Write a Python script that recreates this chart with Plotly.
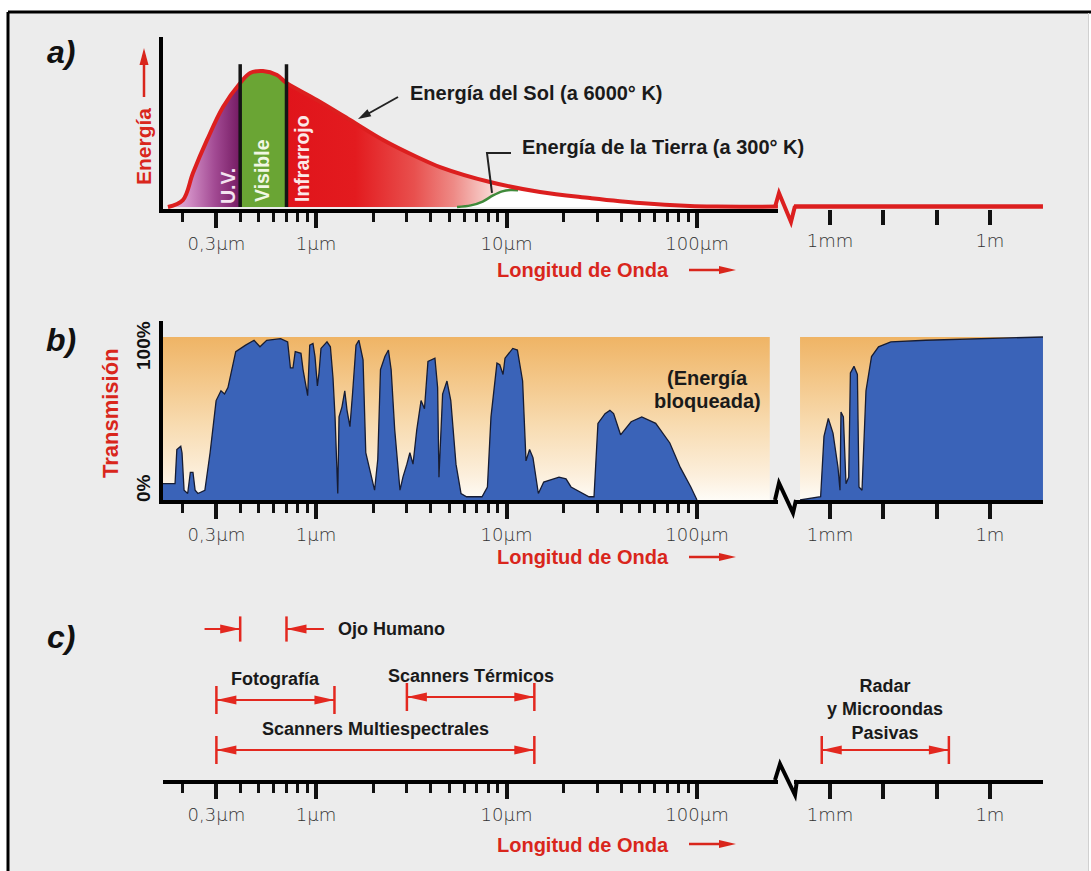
import numpy as np
import plotly.graph_objects as go

W, H = 1091, 871

# ---------------- DATA ----------------
# a) emitted energy (relative units, peak = 100) vs wavelength (µm)
sun_wl = [0.167, 0.200, 0.226, 0.268, 0.325, 0.400, 0.451, 0.527, 0.624, 0.700,
          1.01, 1.51, 2.25, 3.39, 4.48, 8.19, 15.0, 27.4, 50.2, 91.9, 127, 266]
sun_energy = [0, 5.1, 25, 49.3, 73.5, 91.2, 98.5, 100, 97, 91.2,
              78.7, 64, 49.3, 36.8, 29.4, 18.4, 11, 6.6, 2.9, 0.7, 0.3, 0.3]
sun_wl_r = [140, 9.9e6]          # tail of the solar curve beyond the axis break
sun_energy_r = [0.3, 0.3]
earth_wl = [5.5, 6.5, 7.5, 8.5, 9.5, 10.5, 11.5, 13, 16, 25, 40, 80, 127]
earth_energy = [0, 1.2, 4, 8.5, 11.5, 12.5, 12.3, 12, 10, 7, 4.0, 1.0, 0.2]
band_edges = [0.4, 0.7]          # UV | Visible | Infrarrojo  (µm)
band_names = ["U.V.", "Visible", "Infrarrojo"]

# b) atmospheric transmission (%) vs wavelength (µm)
trans_wl = [0.157, 0.164, 0.182, 0.186, 0.195, 0.198, 0.203, 0.212, 0.219, 0.226,
            0.232, 0.240, 0.261, 0.278, 0.299, 0.317, 0.331, 0.345, 0.379, 0.427,
            0.473, 0.508, 0.551, 0.652, 0.710, 0.734, 0.757, 0.778, 0.834, 0.855,
            0.904, 0.927, 0.964, 0.988, 1.017, 1.037, 1.062, 1.142, 1.190, 1.228,
            1.259, 1.301, 1.321, 1.368, 1.416, 1.455, 1.507, 1.555, 1.622, 1.679,
            1.766, 1.825, 1.920, 2.03, 2.11, 2.18, 2.30, 2.40, 2.48, 2.59,
            2.76, 2.86, 3.00, 3.11, 3.23, 3.38, 3.56, 3.71, 3.87, 4.21,
            4.35, 4.42, 4.62, 4.87, 5.10, 5.43, 5.77, 6.17, 7.44, 7.94,
            8.29, 8.91, 9.22, 9.59, 9.82, 10.79, 11.41, 12.15, 12.66, 13.22,
            13.77, 14.70, 15.68, 16.68, 18.87, 20.53, 21.81, 27.1, 28.8, 30.2,
            32.9, 34.9, 36.5, 39.7, 45.1, 51.3, 60.7, 72.0, 81.7, 92.8, 100]
trans_pct = [10, 10, 10, 31, 33, 29, 6, 4, 17, 17,
             6, 4, 6, 29, 61, 67, 65, 69, 91, 95,
             98, 94, 98, 99, 97, 81, 81, 91, 90, 80,
             64, 95, 96, 88, 70, 78, 93, 97, 94, 75,
             51, 4, 51, 57, 67, 55, 45, 65, 95, 98,
             86, 29, 18, 6, 25, 80, 88, 92, 80, 43,
             6, 14, 22, 29, 22, 43, 61, 56, 85, 87,
             69, 14, 65, 73, 61, 22, 4, 2, 2, 8,
             51, 84, 83, 77, 87, 93, 92, 73, 24, 31,
             26, 4, 11, 12, 14, 13, 8, 2, 2, 47,
             53, 55, 53, 40, 48, 51, 47, 35, 20, 8, 0]
trans_wl_r = [274, 667, 771, 929, 1138, 1412, 1540, 1607, 1783, 1995, 2243,
              2414, 2818, 3265, 3499, 3984, 4733, 6012, 8128, 13830, 62640, 9.9e6]
trans_pct_r = [0, 2, 39, 50, 41, 20, 6, 54, 51, 10, 14,
               78, 82, 77, 8, 6, 67, 88, 94, 97, 98, 100]
blocked_wl_left = [0.157, 241]
blocked_wl_right = [274, 9.9e6]
blocked_pct = [100, 100]

# c) sensor ranges (µm)
sensor_names = ["Fotografía", "Scanners Térmicos", "Scanners Multiespectrales"]
sensor_lo = [0.3, 3.0, 0.3]
sensor_hi = [1.25, 14.0, 14.0]
radar_name = "Radar<br>y Microondas<br>Pasivas"
radar_lo, radar_hi = [700], [1.7e5]
eye_name = "Ojo Humano"
eye_range = [0.4, 0.7]
eye_arrow_tails = [0.26, 1.1]

# ticks
left_tickvals = [0.3, 1, 10, 100]
left_ticktext = ["0,3µm", "1µm", "10µm", "100µm"]
left_minor = [0.2, 0.4, 0.5, 0.6, 0.7, 0.8, 0.9, 2, 3, 4, 5, 6, 7, 8, 9,
              20, 30, 40, 50, 60, 70, 80, 90]
right_tickvals = [1e3, 1e4, 1e5, 1e6, 1e7]
right_ticktext = ["1mm", "", "", "1m", ""]

# ---------------- STYLE / GEOMETRY ----------------
RED = "#d9261c"
ARED = "#e3281f"
SUNRED = "#dc1f1f"
BOLD = "Liberation Sans"
TICKFONT = dict(family="DejaVu Sans", size=18, color="#333333", weight=300)


def X(p):
    return p / W


def Y(p):
    return 1 - p / H


UM1_PX, DEC_L = 316.0, 190.5     # px of 1 µm, px per decade (left part)
MM1_PX, DEC_R = 830.0, 53.3      # px of 1 mm, px per decade (right part)
LX0, LX1, RX0, RX1 = 163, 778, 794, 1043
left_range = [(LX0 - UM1_PX) / DEC_L, (LX1 - UM1_PX) / DEC_L]
right_range = [3 + (RX0 - MM1_PX) / DEC_R, 3 + (RX1 - MM1_PX) / DEC_R]


def xax(domain, rng, anchor, vals, text, minor=None, linecolor="black", layer="above traces",
        showline=True):
    d = dict(type="log", domain=domain, range=rng, anchor=anchor, showline=showline,
             linecolor=linecolor, linewidth=4, ticks="outside", ticklen=15,
             tickwidth=3.5, tickcolor="#111", tickmode="array", tickvals=vals,
             ticktext=text, tickfont=TICKFONT, ticklabelstandoff=0, showgrid=False,
             zeroline=False, fixedrange=True, layer=layer)
    if minor is not None:
        d["minor"] = dict(tickmode="array", tickvals=minor, ticks="outside", ticklen=9,
                          tickwidth=3, tickcolor="#111", showgrid=False)
    return d


fig = go.Figure()

# ---------------- PANEL a ----------------
wl = np.array(sun_wl)
en = np.array(sun_energy)
uv = wl <= band_edges[0]
vis = (wl >= band_edges[0]) & (wl <= band_edges[1])
ir = wl >= band_edges[1]

fig.add_trace(go.Scatter(x=wl[uv], y=en[uv], mode="lines", line=dict(width=0, shape="spline"),
                         fill="tozeroy",
                         fillgradient=dict(type="horizontal",
                                           colorscale=[[0, "#e9c3e3"], [0.3, "#d08cc4"],
                                                       [0.65, "#a24a93"], [1, "#741a62"]]),
                         xaxis="x", yaxis="y", hoverinfo="skip"))
fig.add_trace(go.Scatter(x=wl[vis], y=en[vis], mode="lines", line=dict(width=0, shape="spline"),
                         fill="tozeroy", fillcolor="#6aa534", xaxis="x", yaxis="y", hoverinfo="skip"))
fig.add_trace(go.Scatter(x=wl[ir], y=en[ir], mode="lines", line=dict(width=0, shape="spline"),
                         fill="tozeroy",
                         fillgradient=dict(type="horizontal",
                                           colorscale=[[0, "#e0141b"], [0.14, "#e31b1f"],
                                                       [0.26, "#e8504e"], [0.34, "#ee8a86"],
                                                       [0.41, "#f7cfcb"], [0.46, "#ffffff"],
                                                       [1, "#ffffff"]]),
                         xaxis="x", yaxis="y", hoverinfo="skip"))
ewl = np.array(earth_wl)
een = np.array(earth_energy)
fig.add_trace(go.Scatter(x=ewl, y=een, mode="lines", line=dict(width=0, shape="spline"),
                         fill="tozeroy", fillcolor="#ffffff", xaxis="x", yaxis="y", hoverinfo="skip"))
fig.add_trace(go.Scatter(x=ewl[ewl <= 12], y=een[ewl <= 12], mode="lines",
                         line=dict(width=2.5, color="#3f8a3a", shape="spline"),
                         xaxis="x", yaxis="y", hoverinfo="skip"))
fig.add_trace(go.Scatter(x=wl, y=en, mode="lines", line=dict(width=4, color=SUNRED, shape="spline"),
                         xaxis="x", yaxis="y", hoverinfo="skip"))
fig.add_trace(go.Scatter(x=sun_wl_r, y=sun_energy_r, mode="lines", line=dict(width=4.5, color=SUNRED),
                         xaxis="x2", yaxis="y", hoverinfo="skip"))
for e in band_edges:
    fig.add_trace(go.Scatter(x=[e, e], y=[0, 105], mode="lines", line=dict(width=3.5, color="#151515"),
                             xaxis="x", yaxis="y", hoverinfo="skip"))

# ---------------- PANEL b ----------------
orange = [[0, "#fefcf7"], [0.15, "#fcefdc"], [0.45, "#f8dcb2"], [0.75, "#f3c687"], [1, "#efb465"]]
for xs, xa in ((blocked_wl_left, "x3"), (blocked_wl_right, "x4")):
    fig.add_trace(go.Scatter(x=xs, y=blocked_pct, mode="lines", line=dict(width=0),
                             fill="tozeroy",
                             fillgradient=dict(type="vertical", colorscale=orange, start=0, stop=100),
                             xaxis=xa, yaxis="y2", hoverinfo="skip"))
for xs, ys, xa in ((trans_wl, trans_pct, "x3"), (trans_wl_r, trans_pct_r, "x4")):
    fig.add_trace(go.Scatter(x=xs, y=ys, mode="lines", line=dict(width=1.3, color="#161c33"),
                             fill="tozeroy", fillcolor="#3a63b8", xaxis=xa, yaxis="y2",
                             hoverinfo="skip"))

# ---------------- PANEL c ----------------
shapes = []


def head(xref, yref, x, y, dx, dy, L=20, hw=4.5, color=ARED):
    n = np.hypot(dx, dy)
    ux, uy = dx / n, dy / n
    bx, by = -ux * L, -uy * L
    nx, ny = -uy * hw, ux * hw
    pts = [(0, 0), (bx + nx, by + ny), (bx - nx, by - ny)]
    path = "M" + " L".join(f"{a:.2f},{-b:.2f}" for a, b in pts) + " Z"
    return dict(type="path", xref=xref, yref=yref, xsizemode="pixel", ysizemode="pixel",
                xanchor=x, yanchor=y, path=path, fillcolor=color, line=dict(width=0),
                layer="above")


def dim_line(lo, hi, lvl, xa, bar=20):
    fig.add_trace(go.Scatter(x=[lo, hi], y=[lvl, lvl], mode="lines", line=dict(width=2.2, color=ARED),
                             xaxis=xa, yaxis="y3", hoverinfo="skip"))
    fig.add_trace(go.Scatter(x=[lo, hi], y=[lvl, lvl], mode="markers",
                             marker=dict(symbol="line-ns", size=bar, line=dict(width=2.5, color=ARED)),
                             xaxis=xa, yaxis="y3", hoverinfo="skip"))
    shapes.append(head(xa, "y3", lo, lvl, -1, 0))
    shapes.append(head(xa, "y3", hi, lvl, 1, 0))


LBL = dict(family=BOLD, size=18, color="#1a1a1a")
levels = [80, 83, 30]
annotations = []
for name, lo, hi, lvl in zip(sensor_names, sensor_lo, sensor_hi, levels):
    dim_line(lo, hi, lvl, "x5")
    annotations.append(dict(x=np.log10(np.sqrt(lo * hi)), y=lvl + 21, xref="x5", yref="y3",
                            text=f"<b>{name}</b>", showarrow=False, font=LBL))
dim_line(radar_lo[0], radar_hi[0], 30, "x6")
annotations.append(dict(x=np.log10(np.sqrt(radar_lo[0] * radar_hi[0])), y=71, xref="x6", yref="y3",
                        text=f"<b>{radar_name}</b>", showarrow=False, font=LBL))

# eye (narrow range: arrows pointing inward)
EYE = 151
fig.add_trace(go.Scatter(x=eye_range, y=[EYE, EYE], mode="markers",
                         marker=dict(symbol="line-ns", size=18, line=dict(width=2.5, color=ARED)),
                         xaxis="x5", yaxis="y3", hoverinfo="skip"))
for tail, tip, d in zip(eye_arrow_tails, eye_range, (1, -1)):
    fig.add_trace(go.Scatter(x=[tail, tip], y=[EYE, EYE], mode="lines", line=dict(width=2.2, color=ARED),
                             xaxis="x5", yaxis="y3", hoverinfo="skip"))
    shapes.append(head("x5", "y3", tip, EYE, d, 0))
annotations.append(dict(x=np.log10(eye_arrow_tails[1]), y=EYE, xref="x5", yref="y3", xshift=12,
                        xanchor="left", text=f"<b>{eye_name}</b>", showarrow=False, font=LBL))


# ---------------- decorations (paper coords) ----------------
def pline(x0, y0, x1, y1, color="black", width=3):
    return dict(type="line", xref="paper", yref="paper", x0=X(x0), y0=Y(y0), x1=X(x1), y1=Y(y1),
                line=dict(color=color, width=width), layer="above")


def ppath(pts, color="black", width=4):
    path = "M" + " L".join(f"{X(a):.5f},{Y(b):.5f}" for a, b in pts)
    return dict(type="path", xref="paper", yref="paper", path=path,
                line=dict(color=color, width=width), layer="above")


def phead(x, y, dx, dy, L=18, hw=4.5, color=RED):
    return head("paper", "paper", X(x), Y(y), dx, dy, L, hw, color)


# frame
shapes.insert(0, dict(type="rect", xref="paper", yref="paper", x0=X(8), y0=0, x1=X(1089), y1=Y(12),
                      fillcolor="#ececec", line=dict(width=0), layer="below"))
shapes += [pline(8, 12, 8, 871, width=3), pline(8, 12, 1091, 12, width=3),
           pline(1088.5, 13, 1088.5, 871, color="#d0d0d0", width=1)]
# axis breaks
shapes += [ppath([(775, 207), (779, 193), (791, 222), (795, 206)], color=SUNRED),
           ppath([(775, 500), (779, 483), (793, 513), (796, 500)]),
           ppath([(775, 780), (780, 764), (795, 795), (797, 780)])]
# leader line for Earth energy
shapes.append(ppath([(511, 153), (487, 153), (492, 193)], color="#222", width=2))
# Energía del Sol arrow
shapes.append(pline(398, 97, 364, 116, color="#222", width=2))
shapes.append(phead(358, 119, -38, 21, L=13, hw=4, color="#222"))
# Energía axis arrow
shapes.append(pline(144, 97, 144, 62, color=RED, width=2.5))
shapes.append(phead(144, 48, 0, -1, L=17, hw=4.5))
# Longitud de Onda arrows
for yy in (270, 557, 844):
    shapes.append(pline(689, yy, 722, yy, color=RED, width=2.5))
    shapes.append(phead(736, yy, 1, 0, L=17, hw=4))


def ptext(x, y, text, size=17, color="#1a1a1a", angle=0, xanchor="center", family=BOLD):
    annotations.append(dict(x=X(x), y=Y(y), xref="paper", yref="paper", text=text, showarrow=False,
                            textangle=angle, xanchor=xanchor, yanchor="middle",
                            font=dict(family=family, size=size, color=color)))


for lbl, yy in (("a)", 52), ("b)", 340), ("c)", 637)):
    ptext(61, yy, f"<b><i>{lbl}</i></b>", size=32, color="#111")
ptext(144, 147, "<b>Energía</b>", size=21, color=RED, angle=-90)
ptext(228, 186, f"<b>{band_names[0]}</b>", size=19.5, color="#f3e3ef", angle=-90)
ptext(262, 171, f"<b>{band_names[1]}</b>", size=19.5, color="#f1f7e4", angle=-90)
ptext(302, 159, f"<b>{band_names[2]}</b>", size=19.5, color="#fbe8e8", angle=-90)
ptext(408, 93, "<b>Energía del Sol (a 6000° K)</b>", size=20, xanchor="left")
ptext(520, 147, "<b>Energía de la Tierra (a 300° K)</b>", size=20, xanchor="left")
for yy in (270, 557, 845):
    ptext(495, yy, "<b>Longitud de Onda</b>", size=20, color=RED, xanchor="left")
ptext(110, 413, "<b>Transmisión</b>", size=22, color=RED, angle=-90)
ptext(143, 346, "<b>100%</b>", size=19, color="#111", angle=-90)
ptext(143, 488, "<b>0%</b>", size=19, color="#111", angle=-90)
ptext(707, 378, "<b>(Energía</b>", size=20, color="#1a1a1a")
ptext(707, 401, "<b>bloqueada)</b>", size=20, color="#1a1a1a")

# ---------------- LAYOUT ----------------
ldom = [X(LX0), X(LX1)]
rdom = [X(RX0), X(RX1)]
E_PX = 1.36
T_PX = 1.63
fig.update_layout(
    width=W, height=H, margin=dict(l=0, r=0, t=0, b=0),
    paper_bgcolor="#ffffff", plot_bgcolor="rgba(0,0,0,0)", showlegend=False, hovermode=False,
    xaxis=xax(ldom, left_range, "y", left_tickvals, left_ticktext, left_minor, layer="below traces"),
    xaxis2=xax(rdom, right_range, "y", right_tickvals, right_ticktext, showline=False),
    xaxis3=xax(ldom, left_range, "y2", left_tickvals, left_ticktext, left_minor),
    xaxis4=xax(rdom, right_range, "y2", right_tickvals, right_ticktext),
    xaxis5=xax(ldom, left_range, "y3", left_tickvals, left_ticktext, left_minor),
    xaxis6=xax(rdom, right_range, "y3", right_tickvals, right_ticktext),
    yaxis=dict(domain=[Y(209), Y(37)], range=[-2 / E_PX, (207 - 37) / E_PX], anchor="x",
               showline=True, linewidth=4, linecolor="black", showticklabels=False, ticks="",
               showgrid=False, zeroline=False, fixedrange=True),
    yaxis2=dict(domain=[Y(500), Y(321)], range=[0, (500 - 321) / T_PX], anchor="x3",
                showline=True, linewidth=4, linecolor="black", showticklabels=False, ticks="",
                showgrid=False, zeroline=False, fixedrange=True),
    yaxis3=dict(domain=[Y(780), Y(600)], range=[0, 180], anchor="x5", visible=False,
                fixedrange=True),
    shapes=shapes, annotations=annotations,
)

fig.write_html("out.html", config={"displayModeBar": False},
               post_script="document.body.style.margin='0';document.body.style.overflow='hidden';")
